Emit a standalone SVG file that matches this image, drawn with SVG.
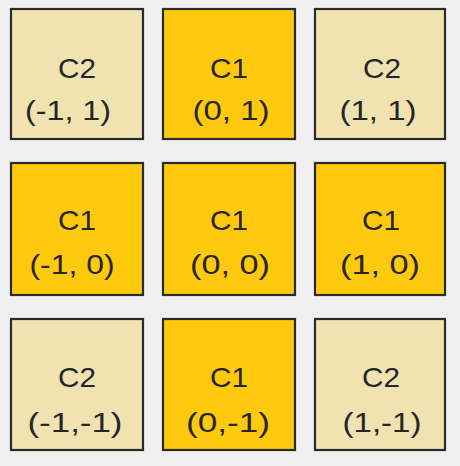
<svg xmlns="http://www.w3.org/2000/svg" width="460" height="466" viewBox="0 0 460 466">
<style>
.c1{fill:#ffc90e;stroke:#2a2a2a;stroke-width:2.2}
.c2{fill:#f1e3b1;stroke:#2a2a2a;stroke-width:2.2}
text{font-family:"Liberation Sans",Arial,sans-serif;font-size:28px;fill:#262626;text-anchor:middle}
</style>
<rect width="460" height="466" fill="#f0f0f0"/>
<g id="n_m1_1"><rect class="c2" x="11" y="9" width="132" height="130"/><text x="77" y="78" textLength="38" lengthAdjust="spacingAndGlyphs">C2</text><text x="68" y="120" textLength="86" lengthAdjust="spacingAndGlyphs">(-1, 1)</text></g>
<g id="n_0_1"><rect class="c1" x="163" y="9" width="132" height="130"/><text x="229" y="78" textLength="38" lengthAdjust="spacingAndGlyphs">C1</text><text x="231" y="120" textLength="77" lengthAdjust="spacingAndGlyphs">(0, 1)</text></g>
<g id="n_1_1"><rect class="c2" x="315" y="9" width="130" height="130"/><text x="382" y="78" textLength="38" lengthAdjust="spacingAndGlyphs">C2</text><text x="378" y="120" textLength="77" lengthAdjust="spacingAndGlyphs">(1, 1)</text></g>
<g id="n_m1_0"><rect class="c1" x="11" y="163" width="132" height="132"/><text x="77" y="230" textLength="38" lengthAdjust="spacingAndGlyphs">C1</text><text x="72" y="274" textLength="85" lengthAdjust="spacingAndGlyphs">(-1, 0)</text></g>
<g id="n_0_0"><rect class="c1" x="163" y="163" width="132" height="132"/><text x="229" y="230" textLength="38" lengthAdjust="spacingAndGlyphs">C1</text><text x="230" y="274" textLength="80" lengthAdjust="spacingAndGlyphs">(0, 0)</text></g>
<g id="n_1_0"><rect class="c1" x="315" y="163" width="130" height="132"/><text x="381" y="230" textLength="38" lengthAdjust="spacingAndGlyphs">C1</text><text x="380" y="274" textLength="80" lengthAdjust="spacingAndGlyphs">(1, 0)</text></g>
<g id="n_m1_m1"><rect class="c2" x="11" y="319" width="132" height="131"/><text x="77" y="387" textLength="38" lengthAdjust="spacingAndGlyphs">C2</text><text x="75" y="432" textLength="95" lengthAdjust="spacingAndGlyphs">(-1,-1)</text></g>
<g id="n_0_m1"><rect class="c1" x="163" y="319" width="132" height="131"/><text x="229" y="387" textLength="38" lengthAdjust="spacingAndGlyphs">C1</text><text x="228" y="432" textLength="84" lengthAdjust="spacingAndGlyphs">(0,-1)</text></g>
<g id="n_1_m1"><rect class="c2" x="315" y="319" width="130" height="131"/><text x="381" y="387" textLength="38" lengthAdjust="spacingAndGlyphs">C2</text><text x="382" y="432" textLength="79" lengthAdjust="spacingAndGlyphs">(1,-1)</text></g>
<g id="connectors"/>
</svg>
